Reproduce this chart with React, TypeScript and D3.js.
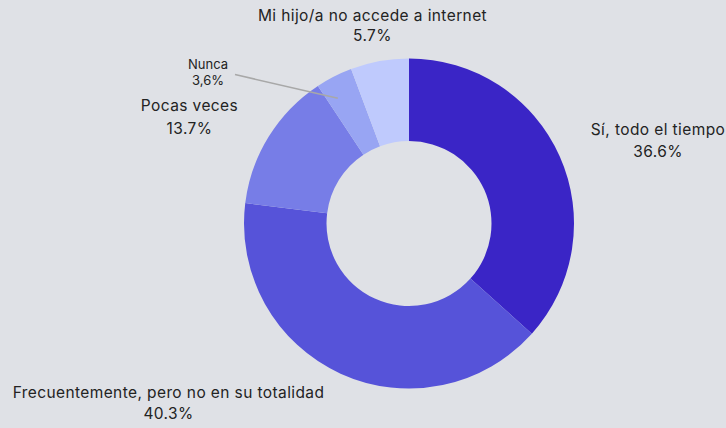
import { useEffect, useRef } from "react";
import * as d3 from "d3";

const categories = [
  "Sí, todo el tiempo",
  "Frecuentemente, pero no en su totalidad",
  "Pocas veces",
  "Nunca",
  "Mi hijo/a no accede a internet",
];
const values = [36.6, 40.3, 13.7, 3.6, 5.7];
const valueLabels = ["36.6%", "40.3%", "13.7%", "3,6%", "5.7%"];
const colors = ["#3a25c6", "#5653d9", "#777de7", "#98a5f3", "#bfcafd"];

const W = 726;
const H = 428;
const cx = 409;
const cy = 223.5;
const outerR = 165;
const innerR = 82.5;

// label placement (x center, baseline of first line, line gap, font size)
const labelLayout = [
  { x: 658, y: 135, gap: 22, size: 15.5 },
  { x: 168.5, y: 398, gap: 21, size: 15.5 },
  { x: 189.5, y: 111, gap: 23, size: 15.5 },
  { x: 208, y: 69, gap: 16, size: 13 },
  { x: 372.5, y: 21, gap: 19.5, size: 15.5 },
];

export default function App() {
  const ref = useRef<SVGSVGElement | null>(null);

  useEffect(() => {
    if (!ref.current) return;
    const svg = d3.select(ref.current);
    svg.selectAll("*").remove();

    svg.append("rect").attr("width", W).attr("height", H).attr("fill", "#dfe1e6");

    const pie = d3.pie<number>().sort(null).value((d) => d);
    const arc = d3.arc<d3.PieArcDatum<number>>().innerRadius(innerR).outerRadius(outerR);
    const arcs = pie(values);

    const g = svg.append("g").attr("transform", `translate(${cx},${cy})`);
    g.selectAll("path")
      .data(arcs)
      .enter()
      .append("path")
      .attr("d", arc)
      .attr("fill", (_, i) => colors[i]);

    // leader line for the small "Nunca" slice
    const nunca = arcs[3];
    const a = nunca.startAngle + (nunca.endAngle - nunca.startAngle) * 0.3;
    const r = 144;
    svg
      .append("line")
      .attr("x1", 235)
      .attr("y1", 74.5)
      .attr("x2", cx + Math.sin(a) * r)
      .attr("y2", cy - Math.cos(a) * r)
      .attr("stroke", "#a8a8a8")
      .attr("stroke-width", 1.5);

    const labels = svg
      .selectAll("g.lbl")
      .data(categories)
      .enter()
      .append("g")
      .attr("class", "lbl")
      .attr("font-family", "Inter, 'DejaVu Sans', sans-serif")
      .attr("fill", "#232323")
      .attr("text-anchor", "middle");

    labels
      .append("text")
      .attr("x", (_, i) => labelLayout[i].x)
      .attr("y", (_, i) => labelLayout[i].y)
      .attr("font-size", (_, i) => labelLayout[i].size)
      .attr("letter-spacing", (_, i) => (i === 3 ? 0 : 0.4))
      .text((d) => d);

    labels
      .append("text")
      .attr("x", (_, i) => labelLayout[i].x)
      .attr("y", (_, i) => labelLayout[i].y + labelLayout[i].gap)
      .attr("font-size", (_, i) => labelLayout[i].size)
      .attr("letter-spacing", (_, i) => (i === 3 ? 0 : 0.4))
      .text((_, i) => valueLabels[i]);
  }, []);

  return (
    <svg
      ref={ref}
      width={W}
      height={H}
      style={{ position: "absolute", left: 0, top: 0, display: "block" }}
    ></svg>
  );
}
